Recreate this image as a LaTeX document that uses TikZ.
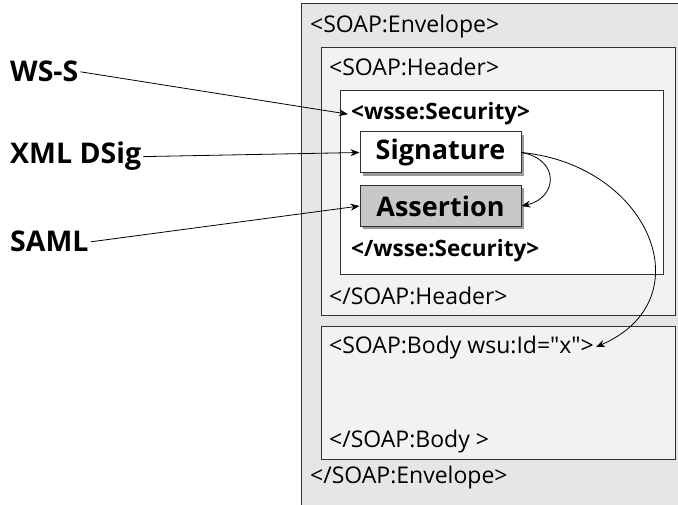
\documentclass[tikz,border=0pt]{standalone}
\usepackage{fontspec}
\setmainfont{Open Sans}[Ligatures=TeXOff]
\usepackage{xcolor}
\usepackage{tikz}
\usetikzlibrary{arrows.meta, positioning, shadows}
\definecolor{envgray}{RGB}{230,230,230}
\definecolor{hdrgray}{RGB}{242,242,242}
\definecolor{assgray}{RGB}{200,200,200}
\definecolor{edgegray}{RGB}{50,50,50}

\begin{document}
\begin{tikzpicture}[
        x=1pt, y=-1pt,
        frame/.style={rectangle, draw=edgegray, line width=1pt, inner sep=0pt},
        tag/.style={anchor=base west, inner sep=1pt, font=\fontsize{23}{25}\selectfont},
        btag/.style={tag, font=\fontsize{22.5}{25}\selectfont\bfseries},
        label/.style={anchor=base west, inner sep=2pt, font=\fontsize{28.5}{30}\selectfont\bfseries},
        elem/.style={rectangle, draw=edgegray, line width=1pt, minimum width=161pt, minimum height=41pt, inner sep=0pt,
            font=\fontsize{27}{29}\selectfont\bfseries,
            drop shadow={shadow xshift=3pt, shadow yshift=-3pt, fill=black!40, opacity=1}},
        link/.style={-{Stealth[length=9pt, width=7pt]}, line width=0.8pt}
    ]
        \useasboundingbox (0,0) rectangle (678,505);

        % Envelope and its boxes
        \node[frame, fill=envgray, minimum width=399pt, minimum height=516pt] (env) at (500.5,262) {};
        \node[frame, fill=hdrgray, minimum width=354pt, minimum height=268pt] (hdr) at (498,182) {};
        \node[frame, fill=white, minimum width=323pt, minimum height=184pt] (sec) at (501.5,183) {};
        \node[frame, fill=hdrgray, minimum width=354pt, minimum height=132pt] (body) at (498,393) {};

        % Tags
        \node[tag] (envopen)  at (309,33)  {<SOAP:Envelope>};
        \node[tag] (hdropen)  at (328,76)  {<SOAP:Header>};
        \node[btag] (secopen) at (350,120) {<wsse:Security>};
        \node[btag] (secclose) at (350,257) {</wsse:Security>};
        \node[tag] (hdrclose) at (328,305) {</SOAP:Header>};
        \node[tag] (bodyopen) at (328,353) {<SOAP:Body wsu:Id="x">};
        \node[tag] (bodyclose) at (328,447) {</SOAP:Body >};
        \node[tag] (envclose) at (309,483) {</SOAP:Envelope>};

        % Signature and assertion
        \node[elem, fill=white]   (sig) at (440.5,152.5) {Signature};
        \node[elem, fill=assgray] (ass) at (440.5,206)   {Assertion};

        % Labels on the left
        \node[label] (wss)  at (8,82)  {WS-S};
        \node[label] (dsig) at (8,164) {XML DSig};
        \node[label] (saml) at (8,252) {SAML};

        % Arrows
        \draw[link] (wss.east) -- ([xshift=-2pt]secopen.west);
        \draw[link] (dsig.east) -- (sig.west);
        \draw[link] (saml.east) -- (ass.west);
        \draw[link] (sig.east) .. controls +(39,7) and +(36,-8) .. (ass.east);
        \draw[link] (sig.east) .. controls (650,165) and (705,300) .. ([xshift=1pt]bodyopen.east);
    \end{tikzpicture}
\end{document}
